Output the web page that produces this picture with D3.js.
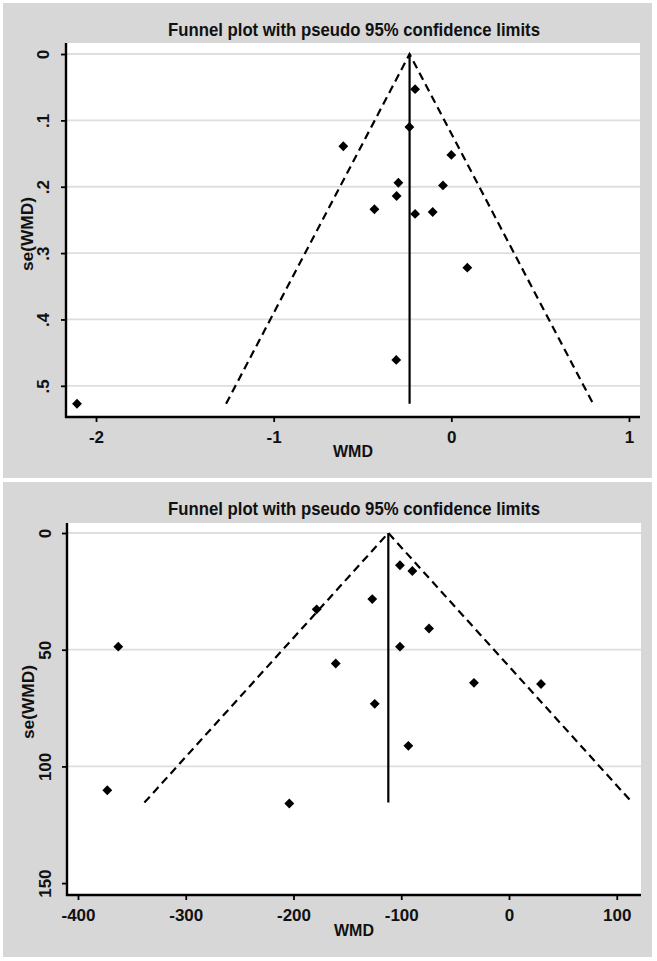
<!DOCTYPE html>
<html>
<head>
<meta charset="utf-8">
<script src="https://cdn.jsdelivr.net/npm/d3@7"></script>
<style>
  html, body { margin: 0; padding: 0; background: #ffffff; }
  svg { display: block; }
  text { font-family: "Liberation Sans", Arial, sans-serif; font-weight: bold; fill: #111; }
</style>
</head>
<body>
<svg id="chart" width="657" height="961"></svg>
<script>
// ---------- DATA ----------
const titleText = "Funnel plot with pseudo 95% confidence limits";
const xLabel = "WMD";
const yLabel = "se(WMD)";

// Panel 1
const wmd1 = [-0.204, -0.236, -0.608, 0.000, -0.298, -0.047, -0.308, -0.433, -0.204, -0.105, 0.090, -0.310, -2.107];
const se1  = [0.053, 0.110, 0.139, 0.152, 0.194, 0.198, 0.214, 0.234, 0.241, 0.238, 0.322, 0.461, 0.527];
const pooled1 = -0.235;
const seMax1 = 0.527;
const xTicks1 = [-2, -1, 0, 1];
const yTicks1 = [0, 0.1, 0.2, 0.3, 0.4, 0.5];
const yTickLabels1 = ["0", ".1", ".2", ".3", ".4", ".5"];
const yGrid1 = [0, 0.1, 0.2, 0.3, 0.4, 0.5];

// Panel 2
const wmd2 = [-101.2, -89.7, -126.9, -178.5, -74.2, -362.6, -101.2, -160.8, -32.5, 29.7, -124.6, -93.4, -372.8, -203.9];
const se2  = [13.8, 16.3, 28.3, 32.7, 40.9, 48.7, 48.7, 55.9, 64.2, 64.7, 73.2, 91.2, 110.2, 115.9];
const pooled2 = -112;
const seMax2 = 115.5;
const xTicks2 = [-400, -300, -200, -100, 0, 100];
const yTicks2 = [0, 50, 100, 150];
const yTickLabels2 = ["0", "50", "100", "150"];
const yGrid2 = [0, 50, 100];

const z = 1.96;

// ---------- DRAW ----------
const svg = d3.select("#chart");
const FONT = "'Liberation Sans', Arial, sans-serif";

function panel(cfg) {
  const g = svg.append("g");
  g.append("rect").attr("x", cfg.box[0]).attr("y", cfg.box[1])
    .attr("width", cfg.box[2]).attr("height", cfg.box[3]).attr("fill", "#d7d7d7");
  const L = cfg.plot[0], T = cfg.plot[1], R = cfg.plot[2], B = cfg.plot[3];
  g.append("rect").attr("x", L).attr("y", T).attr("width", R - L).attr("height", B - T).attr("fill", "#ffffff");

  const x = d3.scaleLinear().domain(cfg.xDomain).range([L, R]);
  const y = d3.scaleLinear().domain(cfg.yDomain).range([T, B]);

  // gridlines
  g.append("g").selectAll("line").data(cfg.yGrid).join("line")
    .attr("x1", L).attr("x2", R)
    .attr("y1", d => y(d)).attr("y2", d => y(d))
    .attr("stroke", "#dedede").attr("stroke-width", 1.8);

  // funnel dashed lines
  const funnel = [
    [cfg.pooled - z * cfg.seMax, cfg.seMax],
    [cfg.pooled, 0],
    [cfg.pooled + z * cfg.seMax, cfg.seMax]
  ];
  g.append("path")
    .attr("d", d3.line().x(d => x(d[0])).y(d => y(d[1]))(funnel))
    .attr("fill", "none").attr("stroke", "#000").attr("stroke-width", 2.2)
    .attr("stroke-dasharray", "8,5");

  // vertical pooled line
  g.append("line")
    .attr("x1", x(cfg.pooled)).attr("x2", x(cfg.pooled))
    .attr("y1", y(0)).attr("y2", y(cfg.seMax))
    .attr("stroke", "#000").attr("stroke-width", 2.2);

  // points
  const sym = d3.symbol().type(d3.symbolDiamond2).size(62);
  g.append("g").selectAll("path").data(cfg.wmd.map((v, i) => [v, cfg.se[i]])).join("path")
    .attr("d", sym)
    .attr("transform", d => `translate(${x(d[0])},${y(d[1])})`)
    .attr("fill", "#000");

  // axes
  const xAxis = d3.axisBottom(x).tickValues(cfg.xTicks).tickSize(5).tickSizeOuter(0).tickFormat(d3.format("d"));
  const xa = g.append("g").attr("transform", `translate(0,${B})`).call(xAxis);
  xa.select(".domain").attr("stroke", "#000").attr("stroke-width", 2.4).attr("d", `M${L - 1},0H${R}`);
  xa.selectAll(".tick line").attr("stroke", "#000").attr("stroke-width", 1.8);
  xa.selectAll(".tick text").attr("y", 0).attr("dy", null)
    .attr("transform", "translate(0,26)")
    .style("font-size", "17px").style("font-family", FONT)
    .style("font-weight", "bold").attr("fill", "#111")
    .text(d => d3.format("d")(d).replace("\u2212", "-"));

  const yAxis = d3.axisLeft(y).tickValues(cfg.yTicks).tickSize(5).tickSizeOuter(0)
    .tickFormat((d, i) => cfg.yTickLabels[i]);
  const ya = g.append("g").attr("transform", `translate(${L},0)`).call(yAxis);
  ya.select(".domain").attr("stroke", "#000").attr("stroke-width", 2.4).attr("d", `M0,${T}V${B + 1}`);
  ya.selectAll(".tick line").attr("stroke", "#000").attr("stroke-width", 1.8);
  ya.selectAll(".tick text")
    .attr("x", null).attr("dy", null)
    .attr("text-anchor", "middle")
    .attr("transform", `translate(${cfg.yLabX - L},0) rotate(-90)`)
    .style("font-size", "17px").style("font-family", FONT)
    .style("font-weight", "bold").attr("fill", "#111");

  // title
  g.append("text").attr("x", cfg.titleX).attr("y", cfg.titleY)
    .attr("text-anchor", "middle").attr("textLength", 372).attr("lengthAdjust", "spacingAndGlyphs")
    .style("font-size", "18.5px").text(titleText);

  // axis titles
  g.append("text").attr("x", (L + R) / 2).attr("y", cfg.xTitleY)
    .attr("text-anchor", "middle").attr("textLength", 40).attr("lengthAdjust", "spacingAndGlyphs")
    .style("font-size", "17px").text(xLabel);
  g.append("text")
    .attr("transform", `translate(${cfg.yTitleX},${cfg.yTitleC}) rotate(-90)`)
    .attr("text-anchor", "middle").attr("textLength", 74).attr("lengthAdjust", "spacingAndGlyphs")
    .style("font-size", "17px").text(yLabel);
}

panel({
  box: [3, 3, 649, 475],
  plot: [66, 43, 640, 417],
  xDomain: [-2.169, 1.062],
  yDomain: [-0.0166, 0.547],
  wmd: wmd1, se: se1, pooled: pooled1, seMax: seMax1,
  xTicks: xTicks1, yTicks: yTicks1, yTickLabels: yTickLabels1, yGrid: yGrid1,
  yLabX: 49, titleX: 354, titleY: 36, xTitleY: 457, yTitleX: 33, yTitleC: 234
});

panel({
  box: [3, 482, 649, 475],
  plot: [67, 523, 641, 895],
  xDomain: [-410.2, 122.5],
  yDomain: [-4.29, 155.1],
  wmd: wmd2, se: se2, pooled: pooled2, seMax: seMax2,
  xTicks: xTicks2, yTicks: yTicks2, yTickLabels: yTickLabels2, yGrid: yGrid2,
  yLabX: 51, titleX: 354, titleY: 515, xTitleY: 936, yTitleX: 34, yTitleC: 702
});
</script>
</body>
</html>
